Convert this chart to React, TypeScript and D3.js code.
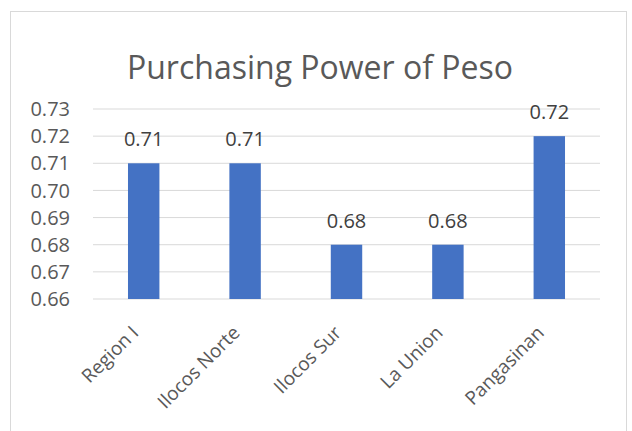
import React from "react";
import * as d3 from "d3";

const categories = ["Region I", "Ilocos Norte", "Ilocos Sur", "La Union", "Pangasinan"];
const values = [0.71, 0.71, 0.68, 0.68, 0.72];
const yTicks = [0.66, 0.67, 0.68, 0.69, 0.7, 0.71, 0.72, 0.73];
const title = "Purchasing Power of Peso";

const W = 632;
const H = 431;
const M = { left: 93, right: 32, top: 109, bottom: 132 };
const FONT = "'Open Sans', 'Liberation Sans', sans-serif";

export default function App() {
  const x = d3.scaleBand<string>().domain(categories).range([M.left, W - M.right]).paddingInner(0.69).paddingOuter(0.345);
  const y = d3.scaleLinear().domain([0.66, 0.73]).range([H - M.bottom, M.top]);
  const fmt = d3.format(".2f");
  return (
    <svg width={W} height={H} style={{ position: "absolute", left: 0, top: 0, background: "#fff" }}>
      <rect x={10.5} y={11.5} width={616} height={440} fill="#fff" stroke="#d9d9d9" strokeWidth={1} />
      <text x={320} y={79} textAnchor="middle" fontFamily={FONT} fontSize={32} fill="#595959">{title}</text>
      {yTicks.map((t) => (
        <g key={t}>
          <line x1={M.left} x2={W - M.right} y1={y(t)} y2={y(t)} stroke="#d9d9d9" strokeWidth={1} />
          <text x={70} y={y(t)} dy="0.36em" textAnchor="end" fontFamily={FONT} fontSize={20} fill="#595959">{fmt(t)}</text>
        </g>
      ))}
      {categories.map((c, i) => (
        <g key={c}>
          <rect x={x(c)} y={y(values[i])} width={x.bandwidth()} height={y(0.66) - y(values[i])} fill="#4472c4" />
          <text x={(x(c) as number) + x.bandwidth() / 2} y={y(values[i]) - 17} textAnchor="middle" fontFamily={FONT} fontSize={20} fill="#404040">{fmt(values[i])}</text>
          <text
            transform={`translate(${(x(c) as number) + x.bandwidth() / 2 - 4},${y(0.66) + 35}) rotate(-45)`}
            textAnchor="end"
            fontFamily={FONT}
            fontSize={19}
            fill="#595959"
          >
            {c}
          </text>
        </g>
      ))}
    </svg>
  );
}
